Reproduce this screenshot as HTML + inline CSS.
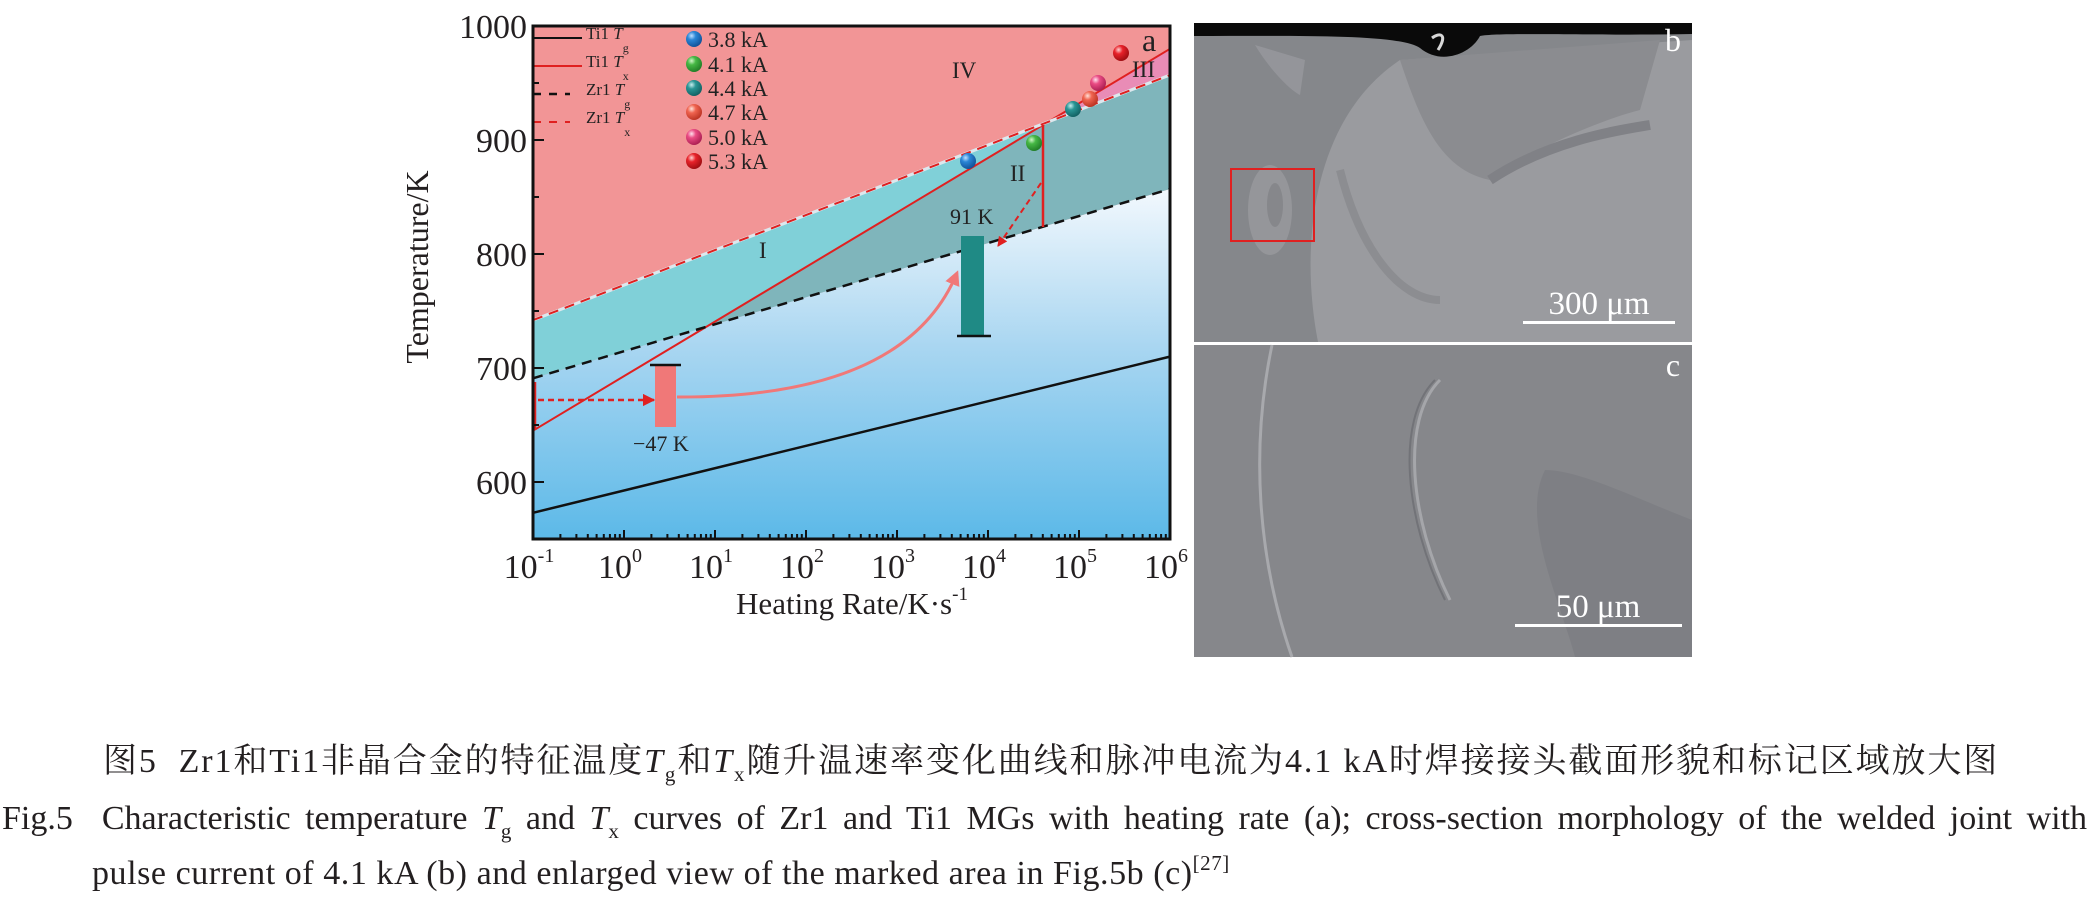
<!DOCTYPE html>
<html><head><meta charset="utf-8"><style>
html,body{margin:0;padding:0;background:#fff;width:2090px;height:900px;overflow:hidden;position:relative}
svg{position:absolute;left:0;top:0}
.cap{position:absolute;font-family:"Liberation Serif","Noto Serif CJK SC",serif;font-size:34px;color:#231f20;white-space:nowrap;line-height:1}
.j{text-align:justify;text-align-last:justify;white-space:normal}
.cap i{font-style:italic}
.cap sub{font-size:21px;vertical-align:-9px;line-height:0}
.cap sup{font-size:21px;vertical-align:14px;line-height:0}
</style></head><body>
<svg width="2090" height="900" viewBox="0 0 2090 900" xmlns="http://www.w3.org/2000/svg" font-family="Liberation Serif, serif">
<defs>
<linearGradient id="bl" x1="0" y1="190" x2="0" y2="539" gradientUnits="userSpaceOnUse">
<stop offset="0" stop-color="#f2f8fd"/><stop offset="0.45" stop-color="#a9d6f1"/><stop offset="1" stop-color="#5cb9e8"/></linearGradient>
<radialGradient id="g1" cx="0.35" cy="0.3" r="0.75"><stop offset="0" stop-color="#bfe0ff"/><stop offset="0.35" stop-color="#2a86d6"/><stop offset="1" stop-color="#0f4f95"/></radialGradient>
<radialGradient id="g2" cx="0.35" cy="0.3" r="0.75"><stop offset="0" stop-color="#d0f5c8"/><stop offset="0.35" stop-color="#46b845"/><stop offset="1" stop-color="#1f7a25"/></radialGradient>
<radialGradient id="g3" cx="0.35" cy="0.3" r="0.75"><stop offset="0" stop-color="#c8eeee"/><stop offset="0.35" stop-color="#2a9595"/><stop offset="1" stop-color="#115e60"/></radialGradient>
<radialGradient id="g4" cx="0.35" cy="0.3" r="0.75"><stop offset="0" stop-color="#ffe0d8"/><stop offset="0.35" stop-color="#f06450"/><stop offset="1" stop-color="#b83020"/></radialGradient>
<radialGradient id="g5" cx="0.35" cy="0.3" r="0.75"><stop offset="0" stop-color="#ffe0ec"/><stop offset="0.35" stop-color="#ea4c84"/><stop offset="1" stop-color="#a81c50"/></radialGradient>
<radialGradient id="g6" cx="0.35" cy="0.3" r="0.75"><stop offset="0" stop-color="#ffd0d0"/><stop offset="0.35" stop-color="#e8222a"/><stop offset="1" stop-color="#9a0c10"/></radialGradient>
<marker id="ar" viewBox="0 0 10 10" refX="9" refY="5" markerWidth="5" markerHeight="5" orient="auto"><path d="M0,0L10,5L0,10z" fill="#e02020"/></marker>
<marker id="ap" viewBox="0 0 10 10" refX="8" refY="5" markerWidth="5" markerHeight="5" orient="auto"><path d="M0,0L10,5L0,10z" fill="#f07878"/></marker>
</defs>
<rect x="533" y="26" width="637" height="513" fill="#f29596"/>
<polygon points="533,378.3 1170,189 1170,539 533,539" fill="url(#bl)"/>
<polygon points="533,320.1 1047,122.3 706,327 533,378.3" fill="#80d0d8"/>
<polygon points="706,327 1047,122.3 1170,75 1170,189" fill="#7fb5bb"/>
<polygon points="1047,122.3 1170,48.8 1170,75" fill="#e98cb6"/>
<line x1="533" y1="512.8" x2="1170" y2="356.6" stroke="#111" stroke-width="2.5"/>
<line x1="533" y1="430.7" x2="1170" y2="48.8" stroke="#e02020" stroke-width="2"/>
<line x1="533" y1="378.3" x2="1170" y2="189" stroke="#111" stroke-width="2.5" stroke-dasharray="10,7"/>
<line x1="533" y1="320.1" x2="1170" y2="75" stroke="#dde8ee" stroke-width="3"/>
<line x1="533" y1="320.1" x2="1170" y2="75" stroke="#e02020" stroke-width="2" stroke-dasharray="10,7"/>
<line x1="1043" y1="125" x2="1043" y2="227" stroke="#e02020" stroke-width="2.5"/>
<line x1="1041" y1="183" x2="998" y2="246" stroke="#e02020" stroke-width="2" stroke-dasharray="6,4" marker-end="url(#ar)"/>
<line x1="535" y1="382" x2="535" y2="430" stroke="#e02020" stroke-width="2.5"/>
<line x1="538" y1="400" x2="654" y2="400" stroke="#e02020" stroke-width="2.5" stroke-dasharray="6,4" marker-end="url(#ar)"/>
<rect x="655" y="365" width="21" height="62" fill="#f07878"/>
<line x1="650" y1="365" x2="681" y2="365" stroke="#111" stroke-width="2.5"/>
<path d="M677,397 Q905,398 957,273" fill="none" stroke="#f07878" stroke-width="3" marker-end="url(#ap)"/>
<rect x="961" y="236" width="23" height="100" fill="#1f8a85"/>
<line x1="957" y1="336" x2="991" y2="336" stroke="#111" stroke-width="2.5"/>
<text x="633" y="451" font-size="22" fill="#222">−47 K</text>
<text x="950" y="224" font-size="22" fill="#222">91 K</text>
<text x="759" y="258" font-size="23" fill="#222">I</text>
<text x="1010" y="181" font-size="23" fill="#222">II</text>
<text x="1132" y="77" font-size="23" fill="#222">III</text>
<text x="952" y="78" font-size="23" fill="#222">IV</text>
<text x="1142" y="51" font-size="32" fill="#222">a</text>
<circle cx="968" cy="161" r="8" fill="url(#g1)"/>
<circle cx="1034" cy="143" r="8" fill="url(#g2)"/>
<circle cx="1073" cy="109" r="8" fill="url(#g3)"/>
<circle cx="1090" cy="99" r="8" fill="url(#g4)"/>
<circle cx="1098" cy="83" r="8" fill="url(#g5)"/>
<circle cx="1121" cy="53" r="8" fill="url(#g6)"/>
<g font-size="17" fill="#222">
<line x1="533" y1="38" x2="582" y2="38" stroke="#111" stroke-width="2"/>
<text x="586" y="39">Ti1 <tspan font-style="italic">T</tspan><tspan font-size="12" dy="13">g</tspan></text>
<line x1="533" y1="66" x2="582" y2="66" stroke="#e02020" stroke-width="2"/>
<text x="586" y="67">Ti1 <tspan font-style="italic">T</tspan><tspan font-size="12" dy="13">x</tspan></text>
<line x1="533" y1="94" x2="570" y2="94" stroke="#111" stroke-width="2.5" stroke-dasharray="8,8"/>
<text x="586" y="95">Zr1 <tspan font-style="italic">T</tspan><tspan font-size="12" dy="13">g</tspan></text>
<line x1="533" y1="122" x2="570" y2="122" stroke="#e02020" stroke-width="2" stroke-dasharray="8,8"/>
<text x="586" y="123">Zr1 <tspan font-style="italic">T</tspan><tspan font-size="12" dy="13">x</tspan></text>
</g>
<g font-size="22" fill="#222">
<circle cx="694" cy="39" r="8" fill="url(#g1)"/><text x="708" y="47">3.8 kA</text>
<circle cx="694" cy="64" r="8" fill="url(#g2)"/><text x="708" y="72">4.1 kA</text>
<circle cx="694" cy="88" r="8" fill="url(#g3)"/><text x="708" y="96">4.4 kA</text>
<circle cx="694" cy="112" r="8" fill="url(#g4)"/><text x="708" y="120">4.7 kA</text>
<circle cx="694" cy="137" r="8" fill="url(#g5)"/><text x="708" y="145">5.0 kA</text>
<circle cx="694" cy="161" r="8" fill="url(#g6)"/><text x="708" y="169">5.3 kA</text>
</g>
<rect x="533" y="26" width="637" height="513" fill="none" stroke="#111" stroke-width="3"/>
<g stroke="#111" stroke-width="2">
<line x1="533" y1="26" x2="544" y2="26"/><line x1="533" y1="140" x2="544" y2="140"/><line x1="533" y1="254" x2="544" y2="254"/><line x1="533" y1="368" x2="544" y2="368"/><line x1="533" y1="482" x2="544" y2="482"/>
<line x1="533" y1="83" x2="539" y2="83"/><line x1="533" y1="197" x2="539" y2="197"/><line x1="533" y1="311" x2="539" y2="311"/><line x1="533" y1="425" x2="539" y2="425"/>
</g>
<g stroke="#111" stroke-width="2">
<path d="M533,539v-9M624,539v-9M715,539v-9M806,539v-9M897,539v-9M988,539v-9M1079,539v-9M1170,539v-9"/>
<path d="M560.4,539v-5M576.4,539v-5M587.8,539v-5M596.6,539v-5M603.8,539v-5M609.9,539v-5M615.1,539v-5M619.8,539v-5
M651.4,539v-5M667.4,539v-5M678.8,539v-5M687.6,539v-5M694.8,539v-5M700.9,539v-5M706.1,539v-5M710.8,539v-5
M742.4,539v-5M758.4,539v-5M769.8,539v-5M778.6,539v-5M785.8,539v-5M791.9,539v-5M797.1,539v-5M801.8,539v-5
M833.4,539v-5M849.4,539v-5M860.8,539v-5M869.6,539v-5M876.8,539v-5M882.9,539v-5M888.1,539v-5M892.8,539v-5
M924.4,539v-5M940.4,539v-5M951.8,539v-5M960.6,539v-5M967.8,539v-5M973.9,539v-5M979.1,539v-5M983.8,539v-5
M1015.4,539v-5M1031.4,539v-5M1042.8,539v-5M1051.6,539v-5M1058.8,539v-5M1064.9,539v-5M1070.1,539v-5M1074.8,539v-5
M1106.4,539v-5M1122.4,539v-5M1133.8,539v-5M1142.6,539v-5M1149.8,539v-5M1155.9,539v-5M1161.1,539v-5M1165.8,539v-5"/>
</g>
<g font-size="34" fill="#231f20" text-anchor="end">
<text x="527" y="38">1000</text><text x="527" y="152">900</text><text x="527" y="266">800</text><text x="527" y="380">700</text><text x="527" y="494">600</text>
</g>
<g font-size="34" fill="#231f20" text-anchor="middle">
<text x="529" y="578">10<tspan font-size="20" dy="-16">-1</tspan></text>
<text x="620" y="578">10<tspan font-size="20" dy="-16">0</tspan></text>
<text x="711" y="578">10<tspan font-size="20" dy="-16">1</tspan></text>
<text x="802" y="578">10<tspan font-size="20" dy="-16">2</tspan></text>
<text x="893" y="578">10<tspan font-size="20" dy="-16">3</tspan></text>
<text x="984" y="578">10<tspan font-size="20" dy="-16">4</tspan></text>
<text x="1075" y="578">10<tspan font-size="20" dy="-16">5</tspan></text>
<text x="1166" y="578">10<tspan font-size="20" dy="-16">6</tspan></text>
<text x="852" y="614" font-size="31">Heating Rate/K·s<tspan font-size="19" dy="-14">-1</tspan></text>
<text transform="translate(428,267) rotate(-90)" font-size="32">Temperature/K</text>
</g>
<rect x="1194" y="23" width="498" height="319" fill="#85878b"/>
<path d="M1318,342 C1300,250 1310,120 1400,60 L1692,40 L1692,342 Z" fill="#9a9b9f"/>
<path d="M1400,60 C1420,120 1440,170 1490,180 C1530,150 1600,120 1640,110 L1660,40 Z" fill="#8b8c90"/>
<path d="M1490,180 C1550,140 1620,130 1650,125" fill="none" stroke="#808186" stroke-width="10"/>
<path d="M1340,170 C1360,250 1400,300 1440,300" fill="none" stroke="#8c8d91" stroke-width="8"/>
<ellipse cx="1270" cy="210" rx="22" ry="45" fill="#95969a"/>
<ellipse cx="1275" cy="205" rx="8" ry="22" fill="#86878b"/>
<path d="M1255,45 C1270,70 1290,90 1300,95 L1305,60 Z" fill="#94959a"/>
<path d="M1194,23 H1692 V34 C1600,36 1500,32 1480,36 C1470,55 1440,65 1420,48 C1400,34 1300,36 1194,36 Z" fill="#0a0a0a"/>
<path d="M1432,38 C1440,32 1448,34 1438,50" stroke="#d8d8d8" stroke-width="3" fill="none"/>
<rect x="1231" y="169" width="83" height="72" fill="none" stroke="#e02020" stroke-width="2"/>
<text x="1673" y="51" font-size="32" fill="#fff" text-anchor="middle">b</text>
<text x="1599" y="314" font-size="33" fill="#fff" text-anchor="middle">300 μm</text>
<rect x="1523" y="321" width="152" height="3" fill="#fff"/>
<rect x="1194" y="342" width="498" height="3" fill="#fff"/>
<rect x="1194" y="345" width="498" height="312" fill="#86878b"/>
<path d="M1272,345 C1250,450 1258,560 1292,657" fill="none" stroke="#a8a9ad" stroke-width="3"/>
<path d="M1440,380 C1400,420 1410,520 1450,600" fill="none" stroke="#a5a6aa" stroke-width="3"/>
<path d="M1440,380 C1400,420 1410,520 1450,600" fill="none" stroke="#727378" stroke-width="2" transform="translate(-5,0)"/>
<path d="M1545,470 C1520,520 1560,600 1575,657 L1692,657 L1692,520 C1640,500 1580,470 1545,470 Z" fill="#7e7f84"/>
<text x="1673" y="376" font-size="32" fill="#fff" text-anchor="middle">c</text>
<text x="1598" y="617" font-size="33" fill="#fff" text-anchor="middle">50 μm</text>
<rect x="1515" y="624" width="167" height="3" fill="#fff"/>
</svg>
<div class="cap" style="left:103px;top:745px;letter-spacing:1.9px">图5&nbsp;&nbsp;Zr1和Ti1非晶合金的特征温度<i>T</i><sub>g</sub>和<i>T</i><sub>x</sub>随升温速率变化曲线和脉冲电流为4.1 kA时焊接接头截面形貌和标记区域放大图</div>
<div class="cap j" style="left:2px;top:802px;width:2085px">Fig.5&nbsp;&nbsp;Characteristic temperature <i>T</i><sub>g</sub> and <i>T</i><sub>x</sub> curves of Zr1 and Ti1 MGs with heating rate (a); cross-section morphology of the welded joint with</div>
<div class="cap" style="left:92px;top:857px;letter-spacing:0.55px">pulse current of 4.1 kA (b) and enlarged view of the marked area in Fig.5b (c)<sup>[27]</sup></div>
</body></html>
